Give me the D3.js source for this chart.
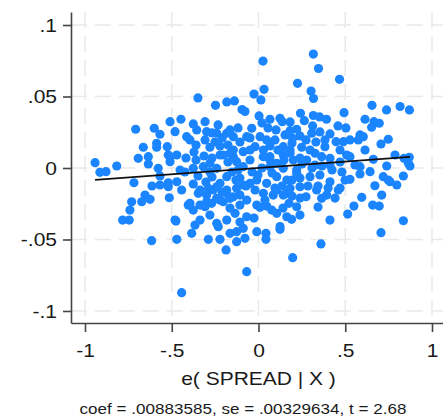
<!DOCTYPE html>
<html>
<head>
<meta charset="utf-8">
<script src="https://cdn.jsdelivr.net/npm/d3@7"></script>
<style>
  html, body { margin: 0; padding: 0; background: #ffffff; }
  svg { display: block; }
  text { font-family: "Liberation Sans", Arial, sans-serif; fill: #1a1a1a; }
</style>
</head>
<body>
<svg id="chart" width="443" height="418"></svg>
<script>
// ---- data ----
const xTickValues = [-1, -0.5, 0, 0.5, 1];
const xTickLabels = ["-1", "-.5", "0", ".5", "1"];
const yTickValues = [-0.1, -0.05, 0, 0.05, 0.1];
const yTickLabels = ["-.1", "-.05", "0", ".05", ".1"];
const xTitle = "e( SPREAD | X )";
const noteText = "coef = .00883585, se = .00329634, t = 2.68";
const fitSlope = 0.00883585;
const fitIntercept = 0;

// residual pairs: [e(SPREAD|X), e(Y|X)]
const residualPairs = [
[0.026,0.0748],[0.316,0.0797],[0.346,0.0696],[0.467,0.0620],[0.225,0.0592],[0.303,0.0538],[0.317,0.0486],
[0.032,0.0550],[-0.026,0.0517],[0.014,0.0476],[-0.349,0.0490],[-0.248,0.0438],[-0.183,0.0462],[-0.139,0.0469],
[-0.095,0.0409],[-0.078,0.0395],[0.654,0.0438],[0.738,0.0406],[0.816,0.0430],[0.870,0.0406],[0.493,0.0387],
[0.242,0.0383],[0.316,0.0367],[0.352,0.0357],[0.392,0.0341],[0.264,0.0331],[0.003,0.0364],[0.066,0.0341],
[0.124,0.0348],[0.137,0.0324],[0.614,0.0341],[0.666,0.0324],[0.696,0.0313],[0.652,0.0285],[0.312,0.0294],
[0.220,0.0271],[0.182,0.0261],[0.307,0.0243],[0.197,0.0208],[0.585,0.0231],[0.604,0.0219],[0.575,0.0196],
[0.748,0.0201],[0.706,0.0168],[0.447,0.0184],[0.489,0.0184],[0.383,0.0149],[0.249,0.0145],[-0.039,0.0278],
[0.009,0.0219],[0.047,0.0196],[-0.020,0.0149],[0.028,0.0126],[0.095,0.0196],[0.143,0.0149],[0.182,0.0126],
[0.326,0.0103],[0.364,0.0079],[0.412,0.0068],[0.508,0.0091],[0.527,0.0079],[0.787,0.0091],[0.839,0.0068],
[0.869,0.0075],[0.585,0.0009],[0.662,0.0061],[0.739,0.0014],[0.873,0.0014],[0.066,0.0079],[0.143,0.0091],
[0.201,0.0056],[0.278,0.0056],[-0.708,0.0271],[-0.601,0.0278],[-0.568,0.0236],[-0.510,0.0324],[-0.447,0.0341],
[-0.481,0.0254],[-0.376,0.0308],[-0.308,0.0324],[-0.414,0.0219],[-0.356,0.0266],[-0.299,0.0254],[-0.241,0.0243],
[-0.183,0.0243],[-0.145,0.0219],[-0.164,0.0266],[-0.068,0.0219],[-0.664,0.0145],[-0.587,0.0145],[-0.526,0.0149],
[-0.693,0.0068],[-0.635,0.0079],[-0.520,0.0091],[-0.471,0.0091],[-0.280,0.0145],[-0.222,0.0154],[-0.145,0.0126],
[-0.088,0.0114],[-0.314,0.0084],[-0.203,0.0091],[-0.145,0.0079],[-0.942,0.0037],[-0.817,0.0014],[-0.879,-0.0026],
[-0.914,-0.0030],[-0.635,0.0028],[-0.578,-0.0002],[-0.510,0.0044],[-0.718,-0.0103],[-0.568,-0.0119],[-0.520,-0.0103],
[-0.471,-0.0096],[-0.443,-0.0154],[-0.376,-0.0112],[-0.654,-0.0189],[-0.673,-0.0236],[-0.625,-0.0219],[-0.731,-0.0236],
[-0.741,-0.0294],[-0.783,-0.0364],[-0.745,-0.0364],[-0.514,-0.0208],[-0.476,-0.0371],[-0.405,-0.0259],[-0.376,-0.0294],
[-0.337,-0.0259],[-0.308,-0.0271],[-0.366,-0.0399],[-0.385,-0.0457],[-0.471,-0.0499],[-0.616,-0.0508],[-0.289,-0.0499],
[-0.222,-0.0499],[-0.187,-0.0573],[-0.241,-0.0387],[-0.232,-0.0410],[-0.183,-0.0364],[-0.135,-0.0317],[-0.164,-0.0457],
[-0.126,-0.0445],[-0.088,-0.0422],[-0.126,-0.0515],[-0.078,-0.0492],[-0.068,-0.0725],[-0.443,-0.0872],[-0.347,-0.0177],
[-0.299,-0.0189],[-0.261,-0.0154],[-0.241,-0.0212],[-0.203,-0.0236],[-0.183,-0.0177],[-0.145,-0.0201],[-0.126,-0.0142],
[-0.088,-0.0119],[-0.222,-0.0107],[-0.183,-0.0061],[-0.068,-0.0224],[-0.299,-0.0236],[-0.270,-0.0247],[-0.068,-0.0341],
[0.527,-0.0079],[0.585,-0.0042],[0.643,-0.0026],[0.719,-0.0061],[0.748,-0.0084],[0.797,-0.0119],[0.835,-0.0056],
[0.671,-0.0124],[0.710,-0.0189],[0.595,-0.0205],[0.550,-0.0266],[0.514,-0.0322],[0.658,-0.0259],[0.696,-0.0266],
[0.835,-0.0369],[0.706,-0.0452],[0.460,-0.0154],[0.393,-0.0189],[0.364,-0.0212],[0.335,-0.0154],[0.274,-0.0201],
[0.360,-0.0531],[0.197,-0.0627],[-0.010,-0.0445],[0.043,-0.0457],[0.043,-0.0499],[0.124,-0.0410],[0.124,-0.0429],
[0.191,-0.0359],[0.239,-0.0329],[0.176,-0.0247],[0.105,-0.0317],[0.076,-0.0294],[0.009,-0.0275],[0.047,-0.0266],
[0.143,-0.0189],[0.085,-0.0189],[0.028,-0.0177],[-0.010,-0.0084],[0.047,-0.0107],[0.105,-0.0061],[0.163,-0.0084],
[0.220,-0.0037],[0.297,-0.0061],[0.354,-0.0049],[0.412,-0.0096],[0.239,-0.0131],[0.182,-0.0142],[0.864,0.0033],
[0.758,-0.0096],[-0.587,0.0173],[-0.510,0.0079],[-0.376,-0.0002],[-0.318,0.0009],[-0.280,0.0033],[-0.241,-0.0002],
[-0.222,0.0091],[-0.164,0.0103],[-0.126,0.0044],[-0.088,0.0009],[-0.049,0.0056],[0.028,0.0079],[0.066,0.0009],
[0.105,0.0033],[0.143,-0.0002],[0.182,0.0103],[0.220,-0.0014],[-0.520,-0.0131],[-0.337,-0.0154],[-0.289,-0.0142],
[-0.241,-0.0131],[-0.183,-0.0154],[-0.049,-0.0107],[0.105,-0.0154],[0.163,-0.0177],[-0.395,-0.0247],[-0.222,-0.0224],
[-0.164,-0.0212],[-0.107,-0.0189],[-0.010,-0.0259],[0.163,-0.0341],[0.220,-0.0271],[-0.481,-0.0364],
[-0.424,-0.0028],[-0.349,-0.0056],[-0.268,-0.0063],[-0.153,-0.0028],[-0.107,-0.0070],[-0.037,-0.0028],[0.020,0.0000],
[0.078,-0.0035],[0.135,-0.0126],[0.193,-0.0084],[0.251,0.0028],[0.308,0.0000],[0.366,0.0014],[0.424,-0.0014],
[0.481,-0.0028],[0.470,0.0042],[0.343,-0.0126],[0.285,-0.0126],[0.401,-0.0140],[-0.360,0.0161],[-0.308,0.0196],
[-0.251,0.0182],[-0.107,0.0182],[-0.049,0.0210],[0.066,0.0154],[0.112,0.0126],[0.193,0.0175],[0.274,0.0196],
[0.331,0.0182],[0.354,0.0252],[0.412,0.0238],[0.458,0.0294],[0.504,0.0280],[0.527,0.0196],[0.055,0.0280],
[0.101,0.0266],[-0.418,0.0070],[-0.372,0.0112],[-0.268,0.0070],[-0.020,-0.0154],[-0.107,-0.0259],[-0.164,-0.0280],
[0.239,-0.0210],[0.441,-0.0210],
[-0.395,0.0196],[-0.209,0.0210],[-0.118,0.0280],[-0.233,0.0301],[0.020,0.0315],[0.182,0.0322],[0.239,0.0224],
[0.153,0.0231],[0.383,0.0196],[0.470,0.0126],[0.297,0.0126],[-0.049,0.0126],[0.066,0.0056],[-0.003,-0.0049],
[-0.072,-0.0126],[-0.130,-0.0084],[-0.210,-0.0168],[-0.303,-0.0098],[-0.360,0.0056],[-0.452,-0.0014],[-0.568,-0.0056],
[-0.614,-0.0126],[0.037,-0.0224],[0.095,-0.0140],[0.239,-0.0070],[0.326,0.0021],[0.412,0.0021],[0.499,-0.0084],
[0.556,0.0021],[0.614,0.0126],[0.470,-0.0140],[0.343,-0.0273],[0.412,-0.0364],[-0.026,-0.0350],[-0.107,-0.0378],
[-0.280,-0.0329],[-0.337,-0.0364],[0.141,-0.0280],[0.193,-0.0196],[-0.176,0.0042],[-0.118,-0.0014],[-0.280,-0.0028],
[0.147,0.0056],[0.239,0.0070],[-0.176,0.0161],[-0.268,0.0245]
];

// ---- layout ----
const svg = d3.select("#chart");
const plot = { left: 71, right: 446, top: 12, bottom: 323 };
const stretch = 1.2; // horizontal text stretch seen in the reference

const x = d3.scaleLinear().domain([-1.0807, 1.0807]).range([plot.left, plot.right]);
const y = d3.scaleLinear().domain([-0.1084, 0.1091]).range([plot.bottom, plot.top]);

// gridlines
const grid = svg.append("g").attr("stroke", "#e9e9e9").attr("stroke-width", 1.5)
  .attr("stroke-dasharray", "16,8").attr("fill", "none");
grid.selectAll("line.h").data(yTickValues).join("line").attr("class", "h")
  .attr("x1", plot.left).attr("x2", plot.right)
  .attr("y1", d => y(d)).attr("y2", d => y(d));
grid.selectAll("line.v").data(xTickValues).join("line").attr("class", "v")
  .attr("y1", plot.top).attr("y2", plot.bottom)
  .attr("x1", d => x(d)).attr("x2", d => x(d));

// points
svg.append("g").selectAll("circle").data(residualPairs).join("circle")
  .attr("cx", d => x(d[0])).attr("cy", d => y(d[1]))
  .attr("r", 4.6).attr("fill", "#1a85ff");

// fitted line
const xExt = d3.extent(residualPairs, d => d[0]);
svg.append("line")
  .attr("x1", x(xExt[0])).attr("y1", y(fitIntercept + fitSlope * xExt[0]))
  .attr("x2", x(xExt[1])).attr("y2", y(fitIntercept + fitSlope * xExt[1]))
  .attr("stroke", "#111").attr("stroke-width", 1.8);

// axes
const yAxis = d3.axisLeft(y).tickValues(yTickValues)
  .tickFormat((d, i) => yTickLabels[i]).tickSize(8).tickSizeOuter(0);
const gy = svg.append("g").attr("transform", `translate(${plot.left},0)`).call(yAxis);
gy.select(".domain").attr("stroke", "#444").attr("stroke-width", 1.6);
gy.selectAll(".tick line").attr("stroke", "#444").attr("stroke-width", 1.6);
gy.selectAll(".tick text")
  .attr("x", -14 / stretch).attr("dy", "0.36em")
  .attr("transform", `scale(${stretch},1)`)
  .style("font-size", "17.5px").style("fill", "#1a1a1a");

const xAxis = d3.axisBottom(x).tickValues(xTickValues)
  .tickFormat((d, i) => xTickLabels[i]).tickSize(9).tickSizeOuter(0);
const gx = svg.append("g").attr("transform", `translate(0,${plot.bottom})`).call(xAxis);
gx.select(".domain").attr("stroke", "#444").attr("stroke-width", 1.6);
gx.selectAll(".tick line").attr("stroke", "#444").attr("stroke-width", 1.6);
gx.selectAll(".tick text")
  .attr("y", 34).attr("dy", 0)
  .attr("transform", `scale(${stretch},1)`)
  .style("font-size", "17.5px").style("fill", "#1a1a1a");

// titles
svg.append("text")
  .attr("transform", `translate(${x(0)},385) scale(${stretch},1)`)
  .attr("text-anchor", "middle").style("font-size", "17.5px")
  .text(xTitle);
svg.append("text")
  .attr("transform", `translate(243,413.5) scale(1.17,1)`)
  .attr("text-anchor", "middle").style("font-size", "14.6px")
  .text(noteText);
</script>
</body>
</html>
